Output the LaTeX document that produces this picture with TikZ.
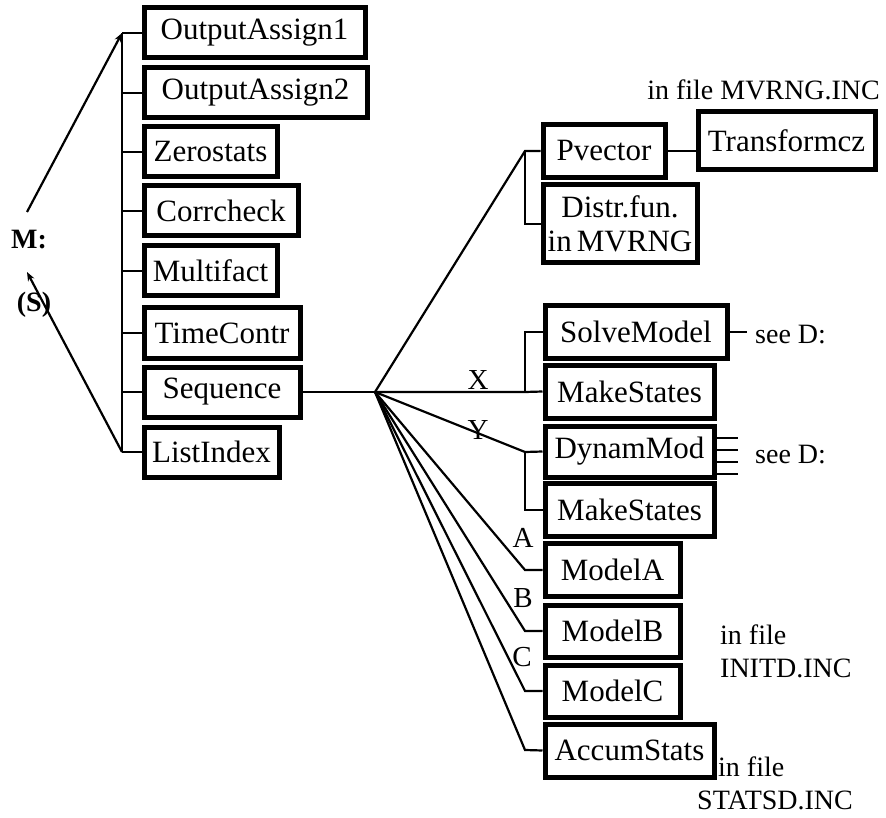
\documentclass[tikz,border=0pt]{standalone}
\usepackage{fontspec}
\setmainfont{Liberation Serif}
\usetikzlibrary{arrows.meta}
\begin{document}
\begin{tikzpicture}[x=1pt,y=-1pt,
  box/.style={draw, line width=5pt, inner sep=0pt, font=\fontsize{31}{32}\selectfont, minimum height=50pt, align=center},
  conn/.style={line width=2.2pt},
  lbl/.style={font=\fontsize{29}{30}\selectfont, inner sep=0pt},
  note/.style={font=\fontsize{28}{32}\selectfont, inner sep=0pt, align=left}]
\useasboundingbox (0,0) rectangle (886,818);
% left column
\node[box, minimum width=221pt] (oa1) at (254.5,33) {OutputAssign1};
\node[box, minimum width=223pt] (oa2) at (255.5,93) {OutputAssign2};
\node[box, minimum width=133pt] (zero) at (210.5,152) {Zerostats};
\node[box, minimum width=154pt] (corr) at (221,211) {Corrcheck};
\node[box, minimum width=133pt] (multi) at (210.5,271) {Multifact};
\node[box, minimum width=156pt] (time) at (222,333) {TimeContr};
\node[box, minimum width=156pt] (seq) at (222,392) {Sequence};
\node[box, minimum width=135pt] (list) at (211.5,452) {ListIndex};
\coordinate (ttop) at (122,33);
\coordinate (tbot) at (122,452);
\draw[conn] (ttop) -- (tbot);
\foreach \n in {oa1,oa2,zero,corr,multi,time,seq,list}
  \draw[conn] (\n.west) -- (\n.west -| ttop);
\node[lbl, font=\fontsize{28}{30}\selectfont\bfseries] (m) at (29,240) {M:};
\node[lbl, font=\fontsize{28}{30}\selectfont\bfseries] (s) at (34,305) {(S)};
\coordinate (mtop) at (27,212);
\coordinate (sarr) at (27,272);
\draw[conn, -{Stealth[length=9pt,width=7pt]}] (mtop) -- (ttop);
\draw[conn, -{Stealth[length=9pt,width=7pt]}] (tbot) -- (sarr);
% hub
\coordinate (hub) at (375,392);
\draw[conn] (seq.east) -- (hub);
% right boxes
\node[box, minimum width=122pt, minimum height=53pt] (pvec) at (604,151) {Pvector};
\node[box, minimum width=154pt, minimum height=78pt, font=\fontsize{31}{34}\selectfont] (distr) at (620,224) {Distr.fun.\\in\,MVRNG};
\node[box, minimum width=177pt, minimum height=58pt] (trans) at (786.5,141) {Transformcz};
\node[box, minimum width=182pt, minimum height=53pt] (solve) at (636,332) {SolveModel};
\node[box, minimum width=169pt, minimum height=53pt] (make1) at (629.5,391.5) {MakeStates};
\node[box, minimum width=169pt, minimum height=51pt] (dynam) at (629.5,451.5) {DynamMod};
\node[box, minimum width=169pt, minimum height=53pt] (make2) at (629.5,510) {MakeStates};
\node[box, minimum width=135pt, minimum height=53pt] (ma) at (612.5,570) {ModelA};
\node[box, minimum width=135pt, minimum height=52pt] (mb) at (612.5,631) {ModelB};
\node[box, minimum width=135pt, minimum height=52pt] (mc) at (612.5,691) {ModelC};
\node[box, minimum width=169pt, minimum height=53pt] (acc) at (629.5,750.5) {AccumStats};
% branches
\coordinate (pb) at (525,151);
\draw[conn] (hub) -- (pb) -- (pvec.west);
\draw[conn] (pb) |- (distr.west);
\draw[conn] (pvec.east) -- (pvec.east -| trans.west);
\coordinate (xb) at (525,392);
\draw[conn] (hub) -- (xb) -- (make1.west);
\draw[conn] (xb) |- (solve.west);
\coordinate (yb) at (525,452);
\draw[conn] (hub) -- (yb) -- (dynam.west);
\draw[conn] (yb) |- (make2.west);
\coordinate (ab) at (525,570);
\coordinate (bb) at (525,631);
\coordinate (cb) at (525,691);
\coordinate (sb) at (525,750);
\draw[conn] (hub) -- (ab) -- (ma.west);
\draw[conn] (hub) -- (bb) -- (mb.west);
\draw[conn] (hub) -- (cb) -- (mc.west);
\draw[conn] (hub) -- (sb) -- (acc.west);
% labels
\node[lbl] (lx) at (478,380) {X};
\node[lbl] (ly) at (478,430) {Y};
\node[lbl] (la) at (523,538) {A};
\node[lbl] (lb) at (523,598) {B};
\node[lbl] (lc) at (522,657) {C};
% notes
\node[note, anchor=east] (n1) at (880,90) {in file MVRNG.INC};
\node[note, anchor=west] (sd1) at (755,335) {see D:};
\coordinate (sd1s) at (747,332);
\draw[conn] (solve.east) -- (sd1s);
\node[note, anchor=west] (sd2) at (755,455) {see D:};
\foreach \yy in {438,450,462,474}
  \draw[conn] (dynam.east |- 0,\yy) -- ++(21,0);
\node[note, anchor=west] (n2) at (720,635) {in file};
\node[note, anchor=west] (n3) at (720,668) {INITD.INC};
\node[note, anchor=west] (n4) at (718,767) {in file};
\node[note, anchor=west] (n5) at (697,800) {STATSD.INC};
\end{tikzpicture}
\end{document}
